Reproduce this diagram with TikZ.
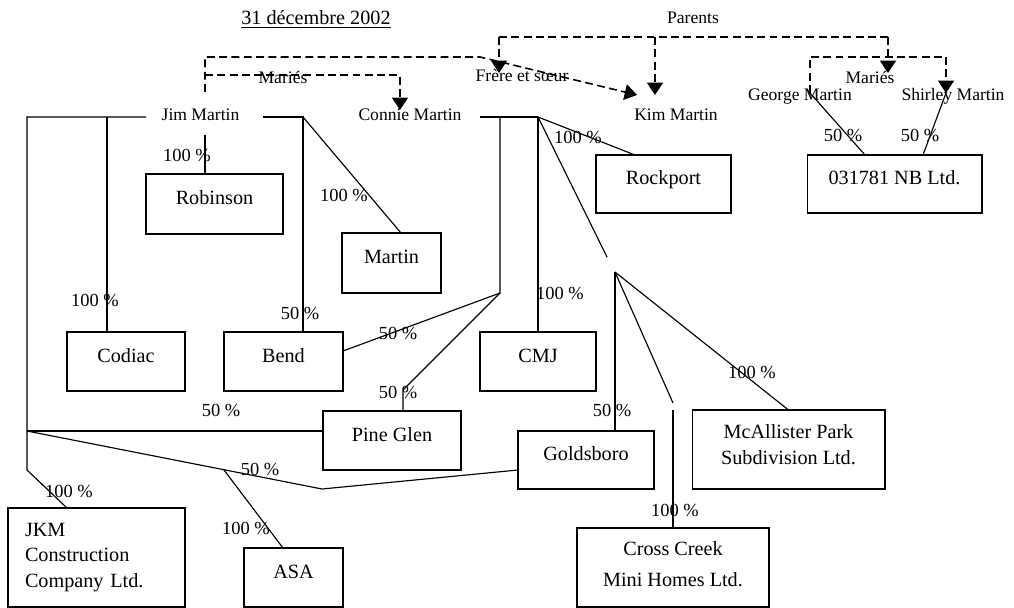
\documentclass[tikz,border=0pt]{standalone}
\usepackage{fontspec}
\setmainfont{Liberation Serif}
\usetikzlibrary{arrows.meta}

\newcommand{\boite}{\fontsize{11.5}{14.6}\selectfont}
\newcommand{\nom}{\fontsize{10}{12}\selectfont}
\newcommand{\taille}{\fontsize{10.5}{12}\selectfont}
\newcommand{\bas}[1]{\rule[-#1]{0pt}{0pt}}

\begin{document}
\begin{tikzpicture}[x=0.02cm,y=-0.02cm]

%\draw[help lines] (0,0) grid (1014,608);
\useasboundingbox (0,0) rectangle (1014,608);

% Define block styles
\tikzstyle{societe}=[draw, line width=0.6pt, inner sep=0pt, outer sep=0pt,
  align=center, font=\boite]
\tikzstyle{personne}=[inner sep=1pt, font=\nom]
\tikzstyle{pct}=[inner sep=0pt, font=\taille]
\tikzstyle{lien}=[draw, line width=0.65pt]
\tikzstyle{famille}=[draw, line width=0.9pt, dash pattern=on 4.5pt off 2.5pt]
\tikzstyle{fleche}=[famille, -{Triangle[width=9pt,length=7pt]}]

% Percentage on a link
\newcommand{\taux}[4]{\path (#2,#3) node (#1) [pct] {#4~\%};}

% Title and family labels
\path node[anchor=base] at (316,25) (date) [font=\boite] {\underline{31 décembre 2002}};
\path node at (693,18) (parents) [personne] {Parents};
\path node at (283,77) (maries1) [personne] {Mariés};
\path node at (870,77) (maries2) [personne] {Mariés};
\path node at (522,75) (fratrie) [personne] {Frère et sœur};

% People
\path node at (200.5,115) (jim) [personne] {Jim Martin};
\path node at (410,115) (connie) [personne] {Connie Martin};
\path node at (676,115) (kim) [personne] {Kim Martin};
\path node[anchor=base] at (800,101) (george) [personne] {George Martin};
\path node[anchor=base] at (953,101) (shirley) [personne] {Shirley Martin};

% Companies
\path node at (214.5,204) (robinson) [societe, minimum width=2.74cm,
  minimum height=1.2cm] {Robinson\bas{7pt}};
\path node at (391.5,263) (martin) [societe, minimum width=1.98cm,
  minimum height=1.2cm] {Martin\bas{7pt}};
\path node at (126,361.5) (codiac) [societe, minimum width=2.36cm,
  minimum height=1.18cm] {Codiac\bas{7pt}};
\path node at (283.5,361.5) (bend) [societe, minimum width=2.38cm,
  minimum height=1.18cm] {Bend\bas{7pt}};
\path node at (538,361.5) (cmj) [societe, minimum width=2.32cm,
  minimum height=1.18cm] {CMJ\bas{7pt}};
\path node at (392,440.5) (pineglen) [societe, minimum width=2.76cm,
  minimum height=1.18cm] {Pine Glen\bas{7pt}};
\path node at (586,460) (goldsboro) [societe, minimum width=2.72cm,
  minimum height=1.16cm] {Goldsboro\bas{7pt}};
\path node at (788.5,449.5) (mcallister) [societe, minimum width=3.86cm,
  minimum height=1.58cm] {McAllister Park\\Subdivision Ltd.\bas{5.5pt}};
\path node at (673,567.5) (crosscreek) [societe, minimum width=3.84cm,
  minimum height=1.58cm] {Cross Creek\\[2.5pt]Mini Homes Ltd.\bas{4pt}};
\path node at (96.5,557.5) (jkm) [societe, minimum width=3.54cm,
  minimum height=1.98cm, text width=2.86cm, align=left]
  {JKM\\Construction\\Company Ltd.};
\path node at (293.5,577.5) (asa) [societe, minimum width=1.98cm,
  minimum height=1.18cm] {ASA\bas{7pt}};
\path node at (663.5,184) (rockport) [societe, minimum width=2.7cm,
  minimum height=1.16cm] {Rockport\bas{7pt}};
\path node at (894.5,184) (nb) [societe, minimum width=3.5cm,
  minimum height=1.16cm] {031781 NB Ltd.\bas{7pt}};

% Corners and branch points
\coordinate (jimG) at (146,117);
\coordinate (jimD) at (263,117);
\coordinate (jg) at (27,117);
\coordinate (jc) at (107,117);
\coordinate (jh) at (27,431);
\coordinate (jb) at (27,470);
\coordinate (jr) at (205,135);
\coordinate (jd) at (303,117);
\coordinate (pv) at (322,489);
\coordinate (pa) at (224,470);
\coordinate (conD) at (480,117);
\coordinate (cv) at (500,117);
\coordinate (cf) at (500,293);
\coordinate (cp) at (403,390);
\coordinate (cd) at (538,117);
\coordinate (cx) at (607,257);
\coordinate (mk) at (615,272);
\coordinate (mc) at (673,403);
\coordinate (mc2) at (673,410);

% Family links
\coordinate (f1) at (205,92);
\coordinate (f2) at (205,57);
\coordinate (f3) at (480,57);
\coordinate (kim1) at (637,95);
\coordinate (m1) at (205,75);
\coordinate (m2) at (400,75);
\coordinate (con1) at (400,110);
\coordinate (pg) at (499,37);
\coordinate (pd) at (888,37);
\coordinate (fr) at (499,73);
\coordinate (pk) at (655,37);
\coordinate (kim2) at (655,95);
\coordinate (pm) at (888,73);
\coordinate (g1) at (810,93);
\coordinate (g2) at (810,57);
\coordinate (s2) at (946,57);
\coordinate (s1) at (946,93);

% Ownership links
\path[lien] (jimG) -- (jg) -- (jb) -- ([xshift=1.18cm]jkm.north west);
\path[lien] (jc) -- (jc |- codiac.north);
\path[lien] (jh) -- (jh -| pineglen.west);
\path[lien] (jh) -- (pv) -- ([yshift=-0.2cm]goldsboro.west);
\path[lien] (pa) -- ([xshift=-0.21cm]asa.north);
\path[lien] (jr) -- (jr |- robinson.north);
\path[lien] (jimD) -- (jd) -- (jd |- bend.north);
\path[lien] (jd) -- ([xshift=0.19cm]martin.north);
\path[lien] (conD) -- (cd);
\path[lien] (cv) -- (cf) -- ([yshift=0.21cm]bend.east);
\path[lien] (cf) -- (cp) -- (cp |- pineglen.north);
\path[lien] (cd) -- (cmj.north);
\path[lien] (cd) -- ([xshift=-0.57cm]rockport.north);
\path[lien] (cd) -- (cx);
\path[lien] (mk) -- (mk |- goldsboro.north);
\path[lien] (mk) -- (mc);
\path[lien] (mc2) -- (crosscreek.north);
\path[lien] (mk) -- (mcallister.north);
\path[lien] (g1) -- ([xshift=-0.59cm]nb.north);
\path[lien] (s1) -- ([xshift=0.57cm]nb.north);

\path[fleche] (f1) -- (f2) -- (f3) -- (kim1);
\path[fleche] (m1) -- (m2) -- (con1);
\path[famille] (pg) -- (pd);
\path[fleche] (pg) -- (fr);
\path[fleche] (pk) -- (kim2);
\path[fleche] (pd) -- (pm);
\path[fleche] (g1) -- (g2) -- (s2) -- (s1);

% Percentages
\taux{t1}{187}{155}{100}
\taux{t2}{344}{195}{100}
\taux{t3}{95}{300}{100}
\taux{t4}{300}{313}{50}
\taux{t5}{398}{333}{50}
\taux{t6}{398}{392}{50}
\taux{t7}{221}{410}{50}
\taux{t8}{260}{469}{50}
\taux{t9}{69}{491}{100}
\taux{t10}{246}{528}{100}
\taux{t11}{560}{293}{100}
\taux{t12}{578}{137}{100}
\taux{t13}{752}{372}{100}
\taux{t14}{612}{410}{50}
\taux{t15}{675}{510}{100}
\taux{t16}{843}{135}{50}
\taux{t17}{920}{135}{50}

\end{tikzpicture}
\end{document}
